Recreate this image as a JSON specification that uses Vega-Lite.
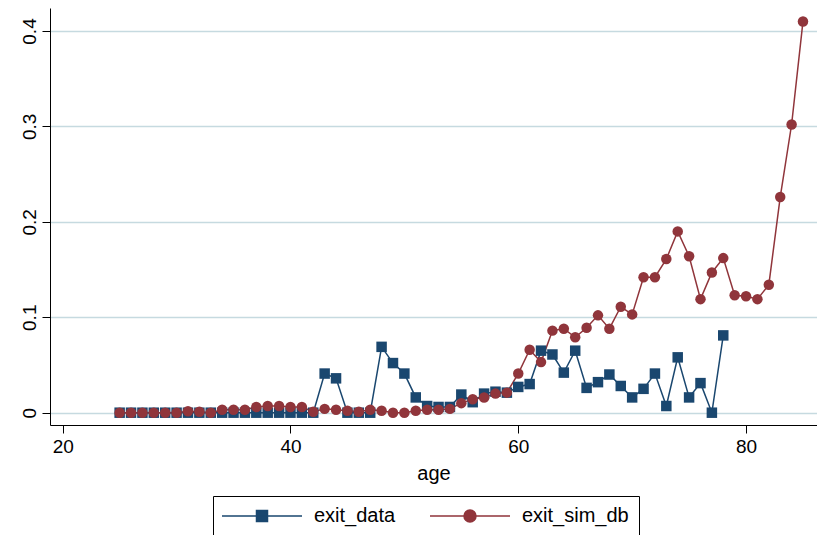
{
  "$schema": "https://vega.github.io/schema/vega-lite/v6.json",
  "width": 767,
  "height": 417,
  "autosize": "none",
  "padding": {"left": 50, "top": 8, "right": 0, "bottom": 110},
  "config": {"view": {"stroke": null}, "font": "Liberation Sans"},
  "data": {"values": [
    {"age":25,"series":"exit_data","value":0},{"age":26,"series":"exit_data","value":0},{"age":27,"series":"exit_data","value":0},{"age":28,"series":"exit_data","value":0},{"age":29,"series":"exit_data","value":0},{"age":30,"series":"exit_data","value":0},{"age":31,"series":"exit_data","value":0},{"age":32,"series":"exit_data","value":0},{"age":33,"series":"exit_data","value":0},{"age":34,"series":"exit_data","value":0},{"age":35,"series":"exit_data","value":0},{"age":36,"series":"exit_data","value":0},{"age":37,"series":"exit_data","value":0},{"age":38,"series":"exit_data","value":0},{"age":39,"series":"exit_data","value":0},{"age":40,"series":"exit_data","value":0},{"age":41,"series":"exit_data","value":0},{"age":42,"series":"exit_data","value":0},
    {"age":43,"series":"exit_data","value":0.041},{"age":44,"series":"exit_data","value":0.036},{"age":45,"series":"exit_data","value":0},{"age":46,"series":"exit_data","value":0},{"age":47,"series":"exit_data","value":0},{"age":48,"series":"exit_data","value":0.069},{"age":49,"series":"exit_data","value":0.052},{"age":50,"series":"exit_data","value":0.041},{"age":51,"series":"exit_data","value":0.016},{"age":52,"series":"exit_data","value":0.007},{"age":53,"series":"exit_data","value":0.006},{"age":54,"series":"exit_data","value":0.006},{"age":55,"series":"exit_data","value":0.019},{"age":56,"series":"exit_data","value":0.011},{"age":57,"series":"exit_data","value":0.020},{"age":58,"series":"exit_data","value":0.022},{"age":59,"series":"exit_data","value":0.021},{"age":60,"series":"exit_data","value":0.027},{"age":61,"series":"exit_data","value":0.030},{"age":62,"series":"exit_data","value":0.065},{"age":63,"series":"exit_data","value":0.061},{"age":64,"series":"exit_data","value":0.042},{"age":65,"series":"exit_data","value":0.065},{"age":66,"series":"exit_data","value":0.026},{"age":67,"series":"exit_data","value":0.032},{"age":68,"series":"exit_data","value":0.040},{"age":69,"series":"exit_data","value":0.028},{"age":70,"series":"exit_data","value":0.016},{"age":71,"series":"exit_data","value":0.025},{"age":72,"series":"exit_data","value":0.041},{"age":73,"series":"exit_data","value":0.007},{"age":74,"series":"exit_data","value":0.058},{"age":75,"series":"exit_data","value":0.016},{"age":76,"series":"exit_data","value":0.031},{"age":77,"series":"exit_data","value":0},{"age":78,"series":"exit_data","value":0.081},
    {"age":25,"series":"exit_sim_db","value":0},{"age":26,"series":"exit_sim_db","value":0},{"age":27,"series":"exit_sim_db","value":0},{"age":28,"series":"exit_sim_db","value":0},{"age":29,"series":"exit_sim_db","value":0},{"age":30,"series":"exit_sim_db","value":0},{"age":31,"series":"exit_sim_db","value":0.0015},{"age":32,"series":"exit_sim_db","value":0.001},{"age":33,"series":"exit_sim_db","value":0},{"age":34,"series":"exit_sim_db","value":0.003},{"age":35,"series":"exit_sim_db","value":0.003},{"age":36,"series":"exit_sim_db","value":0.003},{"age":37,"series":"exit_sim_db","value":0.006},{"age":38,"series":"exit_sim_db","value":0.007},{"age":39,"series":"exit_sim_db","value":0.007},{"age":40,"series":"exit_sim_db","value":0.006},{"age":41,"series":"exit_sim_db","value":0.006},{"age":42,"series":"exit_sim_db","value":0.001},{"age":43,"series":"exit_sim_db","value":0.004},{"age":44,"series":"exit_sim_db","value":0.003},{"age":45,"series":"exit_sim_db","value":0.002},{"age":46,"series":"exit_sim_db","value":0.001},{"age":47,"series":"exit_sim_db","value":0.003},{"age":48,"series":"exit_sim_db","value":0.002},{"age":49,"series":"exit_sim_db","value":0},{"age":50,"series":"exit_sim_db","value":0},{"age":51,"series":"exit_sim_db","value":0.002},{"age":52,"series":"exit_sim_db","value":0.003},{"age":53,"series":"exit_sim_db","value":0.003},{"age":54,"series":"exit_sim_db","value":0.004},{"age":55,"series":"exit_sim_db","value":0.010},{"age":56,"series":"exit_sim_db","value":0.014},{"age":57,"series":"exit_sim_db","value":0.016},{"age":58,"series":"exit_sim_db","value":0.020},{"age":59,"series":"exit_sim_db","value":0.021},{"age":60,"series":"exit_sim_db","value":0.041},{"age":61,"series":"exit_sim_db","value":0.066},{"age":62,"series":"exit_sim_db","value":0.053},{"age":63,"series":"exit_sim_db","value":0.086},{"age":64,"series":"exit_sim_db","value":0.088},{"age":65,"series":"exit_sim_db","value":0.079},{"age":66,"series":"exit_sim_db","value":0.089},{"age":67,"series":"exit_sim_db","value":0.102},{"age":68,"series":"exit_sim_db","value":0.088},{"age":69,"series":"exit_sim_db","value":0.111},{"age":70,"series":"exit_sim_db","value":0.103},{"age":71,"series":"exit_sim_db","value":0.142},{"age":72,"series":"exit_sim_db","value":0.142},{"age":73,"series":"exit_sim_db","value":0.161},{"age":74,"series":"exit_sim_db","value":0.190},{"age":75,"series":"exit_sim_db","value":0.164},{"age":76,"series":"exit_sim_db","value":0.119},{"age":77,"series":"exit_sim_db","value":0.147},{"age":78,"series":"exit_sim_db","value":0.162},{"age":79,"series":"exit_sim_db","value":0.123},{"age":80,"series":"exit_sim_db","value":0.122},{"age":81,"series":"exit_sim_db","value":0.119},{"age":82,"series":"exit_sim_db","value":0.134},{"age":83,"series":"exit_sim_db","value":0.226},{"age":84,"series":"exit_sim_db","value":0.302},{"age":85,"series":"exit_sim_db","value":0.410}
  ]},
  "encoding": {
    "x": {"field": "age", "type": "quantitative",
      "scale": {"domain": [18.885, 86.23], "nice": false, "zero": false},
      "axis": {"values": [20, 40, 60, 80], "title": "age", "grid": false,
        "domainColor": "black", "domainWidth": 1, "tickColor": "black", "tickSize": 8, "tickWidth": 1,
        "labelFontSize": 19, "labelColor": "black", "labelPadding": 4, "labelFlush": false,
        "titleFontSize": 20, "titleFontWeight": "normal", "titleColor": "black", "titlePadding": 7}},
    "y": {"field": "value", "type": "quantitative",
      "scale": {"domain": [-0.0129, 0.4241], "nice": false, "zero": false},
      "axis": {"values": [0, 0.1, 0.2, 0.3, 0.4], "title": null, "format": "~g",
        "labelAngle": -90, "labelAlign": "center", "labelBaseline": "alphabetic", "labelPadding": 7,
        "labelFontSize": 19, "labelColor": "black", "tickSize": 8, "tickColor": "black", "tickWidth": 1,
        "domainColor": "black", "domainWidth": 1, "grid": true, "gridColor": "#c6dae0", "gridWidth": 1.5}}
  },
  "layer": [
    {"mark": {"type": "line", "strokeWidth": 1.5},
     "encoding": {"color": {"field": "series", "type": "nominal",
       "scale": {"domain": ["exit_data", "exit_sim_db"], "range": ["#1a476f", "#90353b"]},
       "legend": {"orient": "none", "legendX": 163, "legendY": 488, "direction": "horizontal", "title": null,
         "strokeColor": "black", "fillColor": "white", "padding": 10,
         "labelFontSize": 20, "labelColor": "black", "symbolSize": 100, "symbolStrokeWidth": 1.5,
         "symbolOffset": 29, "labelOffset": 42, "columnPadding": 31,
         "labelExpr": "datum.value === 'exit_sim_db' ? datum.label + '\u00a0\u00a0' : datum.label",
         "encoding": {"symbols": {
           "shape": {"value": {"signal": "datum.value === 'exit_data' ? 'M-8,0H8M-1.1,-1.1H1.1V1.1H-1.1Z' : 'M-8,0H8M-1.2,0A1.2,1.2 0 1,1 1.2,0A1.2,1.2 0 1,1 -1.2,0Z'"}},
           "fill": {"value": {"signal": "datum.value === 'exit_data' ? '#1a476f' : '#90353b'"}},
           "stroke": {"value": {"signal": "datum.value === 'exit_data' ? '#1a476f' : '#90353b'"}}}}}}}},
    {"mark": {"type": "point", "filled": true, "opacity": 1, "size": 110},
     "encoding": {"color": {"field": "series", "type": "nominal"},
       "shape": {"field": "series", "type": "nominal", "scale": {"range": ["square", "circle"]}, "legend": null}}}
  ]
}
